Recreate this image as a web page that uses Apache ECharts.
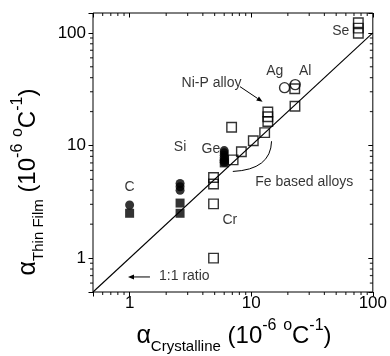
<!DOCTYPE html>
<html><head><meta charset="utf-8">
<script src="https://cdn.jsdelivr.net/npm/echarts@6/dist/echarts.min.js"></script>
<style>html,body{margin:0;padding:0;background:#fff}#c{width:390px;height:356px}</style>
</head><body><div id="c"></div>
<script>
// ---- data ----
const filledCircles = [[1,2.96],[2.6,4.6],[2.6,4.3],[2.6,4.0],[6,9.0],[6,8.6],[6,8.2],[6,7.8],[6,7.4],[6,7.1]];
const filledSquares = [[1,2.5],[2.6,3.08],[2.6,2.5],[6,7.0]];
const openSquares = [[4.9,5.2],[4.9,4.55],[4.9,3.03],[4.9,1.0],[6.9,14.5],[7.1,7.45],[8.3,8.8],[10.4,11.0],[12.9,13.0],
  [13.7,19.8],[13.7,18.0],[13.7,16.3],[22.8,31.9],[22.9,22.3],[76,123],[76,110],[76,99]];
const openCircles = [[18.8,32.6],[23,34.7]];
const ratioLine = [[0.5,0.5],[100,100]];
const tickLabels = ['1','10','100'];
const xMinorTicks = [0.6,0.7,0.8,0.9,2,3,4,5,6,7,8,9,20,30,40,50,60,70,80,90];
const yMinorTicks = [0.6,0.7,0.8,0.9,2,3,4,5,6,7,8,9,20,30,40,50,60,70,80,90];
const pointLabels = [
  {name:'C', value:[1,4.3]},
  {name:'Si', value:[2.6,9.7]},
  {name:'Ge', value:[4.66,9.35]},
  {name:'Cr', value:[6.67,2.19]},
  {name:'Fe based alloys', value:[27.3,4.76]},
  {name:'Ni-P alloy', value:[4.72,35.8]},
  {name:'Ag', value:[15.6,46.1]},
  {name:'Al', value:[27.8,46.1]},
  {name:'Se', value:[54.5,104]},
  {name:'1:1 ratio', value:[2.82,0.69]}
];
const arrows = [ [[1.47,0.68],[0.97,0.68]], [[8.08,33.3],[12.4,24.4]] ];
const feArc = [[14.7,10.9],[14.5,6.1],[7.06,5.88]];
const X_MIN = 0.5, X_MAX = 100, Y_MIN = 0.5, Y_MAX = 150;

const chart = echarts.init(document.getElementById('c'), null, {renderer:'canvas'});
const FONT = 'Liberation Sans, Arial, sans-serif';

function fmt(v){ const r = Math.round(v*1000)/1000; const i = [1,10,100].indexOf(r); return i>=0 ? tickLabels[i] : ''; }

function annotItem(params, api){
  const children = [];
  arrows.forEach(a => {
    const p0 = api.coord(a[0]), p1 = api.coord(a[1]);
    const dx = p1[0]-p0[0], dy = p1[1]-p0[1], L = Math.hypot(dx,dy);
    const ux = dx/L, uy = dy/L, hl = 6, hw = 2.5;
    const bx = p1[0]-ux*hl, by = p1[1]-uy*hl;
    children.push({type:'line', shape:{x1:p0[0],y1:p0[1],x2:bx,y2:by}, style:{stroke:'#000', lineWidth:1}});
    children.push({type:'polygon', shape:{points:[[p1[0],p1[1]],[bx-uy*hw,by+ux*hw],[bx+uy*hw,by-ux*hw]]}, style:{fill:'#000'}});
  });
  const q0 = api.coord(feArc[0]), q1 = api.coord(feArc[1]), q2 = api.coord(feArc[2]);
  children.push({type:'bezierCurve', shape:{x1:q0[0],y1:q0[1],cpx1:q1[0],cpy1:q1[1],x2:q2[0],y2:q2[1]}, style:{stroke:'#000', lineWidth:1, fill:null}});
  return {type:'group', children};
}

function tickSeries(data, size, offset){
  return {type:'scatter', data, symbol:'rect', symbolSize:size, symbolOffset:offset, clip:false, silent:true, z:6,
    itemStyle:{color:'#000'}, emphasis:{disabled:true}};
}
const MIN = 3;

const rich = {
  a:{fontSize:25, fontFamily:FONT, lineHeight:36, verticalAlign:'middle', fill:'#000', color:'#000'},
  sub:{fontSize:15, fontFamily:FONT, lineHeight:15, verticalAlign:'bottom', fill:'#000', color:'#000'},
  m:{fontSize:24, fontFamily:FONT, lineHeight:36, verticalAlign:'middle', fill:'#000', color:'#000'},
  sup:{fontSize:16, fontFamily:FONT, lineHeight:19, verticalAlign:'top', fill:'#000', color:'#000'}
};
function titleText(sub){ return '{a|α}{sub|' + sub + '}{m| (10}{sup|-6}{m| }{sup|o}{m|C}{sup|-1}{m|)}'; }

const baseAxis = {type:'log', logBase:10, splitLine:{show:false}, minorTick:{show:false}, axisLine:{show:false}};

chart.setOption({
  animation:false,
  backgroundColor:'#fff',
  grid:{left:93, top:13, width:280, height:279, show:true, borderColor:'#000', borderWidth:1, backgroundColor:'transparent', containLabel:false},
  xAxis:[
    Object.assign({}, baseAxis, {position:'bottom', min:X_MIN, max:X_MAX,
      axisTick:{show:true, inside:false, length:4.5, lineStyle:{color:'#000', width:1}},
      axisLabel:{formatter:fmt, fontSize:17, fontFamily:FONT, color:'#000', margin:3}}),
    Object.assign({}, baseAxis, {position:'top', min:X_MIN, max:X_MAX,
      axisTick:{show:true, inside:true, length:4.5, lineStyle:{color:'#000', width:1}}, axisLabel:{show:false}})
  ],
  yAxis:[
    Object.assign({}, baseAxis, {position:'left', min:Y_MIN, max:Y_MAX,
      axisTick:{show:true, inside:false, length:4.5, lineStyle:{color:'#000', width:1}},
      axisLabel:{formatter:fmt, fontSize:17, fontFamily:FONT, color:'#000', margin:7}}),
    Object.assign({}, baseAxis, {position:'right', min:Y_MIN, max:Y_MAX,
      axisTick:{show:true, inside:true, length:4.5, lineStyle:{color:'#000', width:1}}, axisLabel:{show:false}})
  ],
  graphic:[
    {type:'text', x:234, y:336, style:{text:titleText('Crystalline'), rich, align:'center', verticalAlign:'middle', fill:'#000'}},
    {type:'text', x:28, y:182, rotation:Math.PI/2, style:{text:titleText('Thin Film'), rich, align:'center', verticalAlign:'middle', fill:'#000'}}
  ],
  series:[
    {type:'line', data:ratioLine, symbol:'none', lineStyle:{color:'#000', width:1.1}, silent:true, z:1},
    {type:'scatter', data:openSquares, symbol:'rect', symbolSize:9.5, itemStyle:{color:'rgba(0,0,0,0)', borderColor:'#000', borderWidth:1.4}, z:3},
    {type:'scatter', data:openCircles, symbol:'circle', symbolSize:10, itemStyle:{color:'rgba(0,0,0,0)', borderColor:'#000', borderWidth:1.4}, z:3},
    {type:'scatter', data:filledSquares, symbol:'rect', symbolSize:9, itemStyle:{color:'#000'}, z:3},
    {type:'scatter', data:filledCircles, symbol:'circle', symbolSize:9, itemStyle:{color:'#000'}, z:3},
    {type:'scatter', data:pointLabels, symbol:'circle', symbolSize:1, itemStyle:{color:'rgba(0,0,0,0)'}, silent:true, z:4,
      label:{show:true, position:'inside', formatter:'{b}', color:'#000', fontSize:14, fontFamily:FONT}},
    {type:'custom', renderItem:annotItem, data:[[1,1]], silent:true, clip:false, z:5},
    tickSeries(xMinorTicks.map(v=>[v,Y_MIN]), [1.2,MIN], [0, MIN/2]),
    tickSeries(xMinorTicks.map(v=>[v,Y_MAX]), [1.2,MIN], [0, MIN/2]),
    tickSeries(yMinorTicks.map(v=>[X_MIN,v]), [MIN,1.2], [-MIN/2, 0]),
    tickSeries(yMinorTicks.map(v=>[X_MAX,v]), [MIN,1.2], [-MIN/2, 0])
  ]
});
</script></body></html>
